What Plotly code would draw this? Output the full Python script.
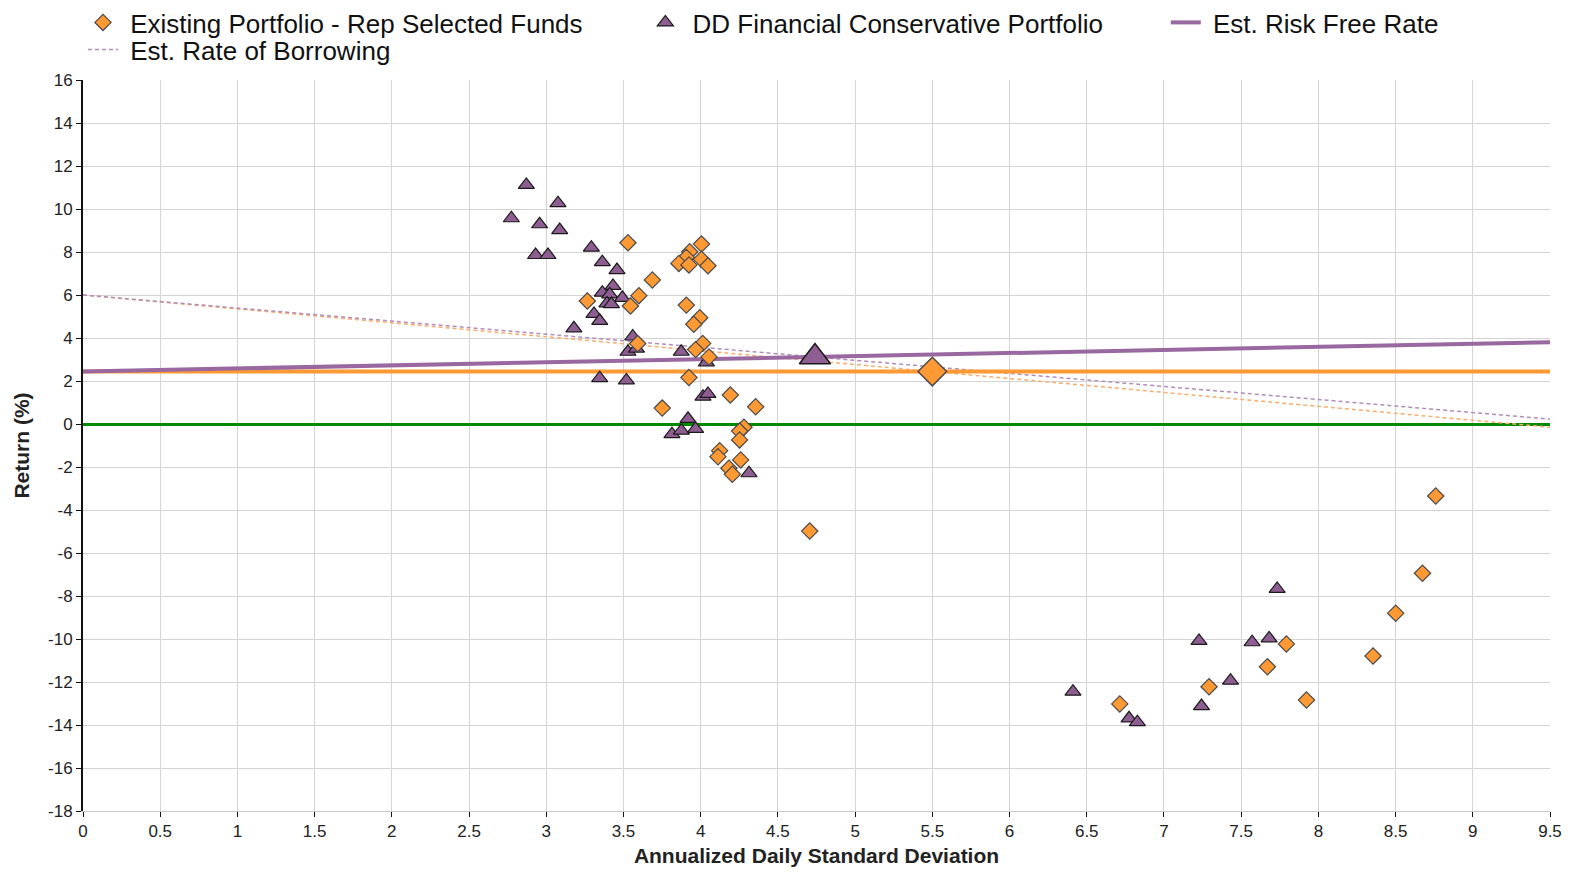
import plotly.graph_objects as go

# ---------------- data ----------------
existing_sd = [3.529, 4.005, 3.929, 3.907, 3.859, 3.924, 4.005, 4.047, 3.687, 3.600,
               3.545, 3.266, 3.907, 3.994, 3.955, 3.592, 4.013, 3.967, 4.054, 3.924,
               4.192, 3.751, 4.356, 4.280, 4.252, 4.252, 4.123, 4.112, 4.259, 4.183,
               4.205, 4.706, 6.714, 7.292, 7.670, 7.793, 7.923, 8.354, 8.501, 8.674,
               8.760]
existing_ret = [8.43, 8.37, 8.01, 7.75, 7.47, 7.40, 7.66, 7.36, 6.70, 5.97,
                5.49, 5.72, 5.53, 4.94, 4.64, 3.74, 3.75, 3.46, 3.12, 2.16,
                1.35, 0.74, 0.80, -0.15, -0.33, -0.74, -1.24, -1.52, -1.67, -2.06,
                -2.34, -4.98, -13.02, -12.22, -11.29, -10.23, -12.84, -10.79, -8.80, -6.94,
                -3.35]

dd_sd = [2.871, 3.076, 2.774, 2.957, 3.087, 2.931, 3.011, 3.292, 3.363, 3.458,
         3.432, 3.363, 3.411, 3.493, 3.393, 3.422, 3.309, 3.346, 3.179, 3.560,
         3.529, 3.584, 3.874, 4.037, 3.346, 3.519, 4.015, 4.047, 3.918, 3.814,
         3.875, 3.967, 4.313, 6.411, 6.774, 6.828, 7.227, 7.243, 7.431, 7.571,
         7.681, 7.733]
dd_ret = [11.12, 10.27, 9.57, 9.29, 9.02, 7.86, 7.86, 8.20, 7.53, 7.16,
          6.42, 6.11, 6.03, 5.87, 5.61, 5.58, 5.12, 4.80, 4.45, 4.07,
          3.36, 3.51, 3.36, 2.87, 2.13, 2.03, 1.27, 1.40, 0.24, -0.47,
          -0.31, -0.23, -2.29, -12.45, -13.69, -13.87, -10.09, -13.12, -11.94, -10.15,
          -9.97, -7.67]

existing_port_sd, existing_port_ret = 5.5, 2.44
dd_port_sd, dd_port_ret = 4.74, 3.12
risk_free_rate = 2.44
borrow_rate = 6.0
sd_max = 9.5

series_names = ["Existing Portfolio - Rep Selected Funds",
                "DD Financial Conservative Portfolio",
                "Est. Risk Free Rate",
                "Est. Rate of Borrowing"]

x_ticks = [i * 0.5 for i in range(20)]
x_ticktext = [f"{v:g}" for v in x_ticks]
y_ticks = list(range(-18, 17, 2))
y_ticktext = [str(v) for v in y_ticks]

# ---------------- styling ----------------
ORANGE = "#FF9933"
PURPLE = "#8E5E92"
PURPLE_LINE = "#9A68A0"
ORANGE_DASH = "#F7AE6E"
PURPLE_DASH = "#B48CB8"
FONT = "Liberation Sans, Arial, sans-serif"
NB = "\u00a0"

# page body has an 8px default margin -> figure is sized to fit the window
FIG_W, FIG_H = 1558, 859
M_L, M_T, M_R, M_B = 75, 72, 16, 56
PLOT_H = FIG_H - M_T - M_B


def line_through(y0, px, py, xmax):
    slope = (py - y0) / px
    return [0, xmax], [y0, y0 + slope * xmax]


fig = go.Figure()

# borrowing lines (dashed)
bx, by = line_through(borrow_rate, existing_port_sd, existing_port_ret, sd_max)
fig.add_trace(go.Scatter(x=bx, y=by, mode="lines", showlegend=False,
                         line=dict(color=ORANGE_DASH, width=1.5, dash="4px,3px"), hoverinfo="skip"))
bx, by = line_through(borrow_rate, dd_port_sd, dd_port_ret, sd_max)
fig.add_trace(go.Scatter(x=bx, y=by, mode="lines", name=NB + series_names[3], legend="legend2",
                         line=dict(color=PURPLE_DASH, width=1.5, dash="4px,3px"), hoverinfo="skip"))

# risk free lines (solid)
rx, ry = line_through(risk_free_rate, existing_port_sd, existing_port_ret, sd_max)
fig.add_trace(go.Scatter(x=rx, y=ry, mode="lines", showlegend=False,
                         line=dict(color=ORANGE, width=4), hoverinfo="skip"))
rx, ry = line_through(risk_free_rate, dd_port_sd, dd_port_ret, sd_max)
fig.add_trace(go.Scatter(x=rx, y=ry, mode="lines", name=NB + series_names[2], legendrank=3,
                         line=dict(color=PURPLE_LINE, width=4), hoverinfo="skip"))

# funds (triangles below diamonds)
fig.add_trace(go.Scatter(x=dd_sd, y=dd_ret, mode="markers",
                         name=NB + series_names[1] + NB * 8, legendrank=2,
                         marker=dict(symbol="triangle-up", size=14, color=PURPLE,
                                     line=dict(color="#1a1a1a", width=1.2))))
fig.add_trace(go.Scatter(x=existing_sd, y=existing_ret, mode="markers",
                         name=NB + series_names[0] + NB * 8, legendrank=1,
                         marker=dict(symbol="diamond", size=12.5, color=ORANGE,
                                     line=dict(color="#4a4a4a", width=1.2))))

# portfolios (big markers)
fig.add_trace(go.Scatter(x=[dd_port_sd], y=[dd_port_ret], mode="markers", showlegend=False,
                         marker=dict(symbol="triangle-up", size=27, color=PURPLE,
                                     line=dict(color="#1a1a1a", width=1.5))))
fig.add_trace(go.Scatter(x=[existing_port_sd], y=[existing_port_ret], mode="markers", showlegend=False,
                         marker=dict(symbol="diamond", size=22, color=ORANGE,
                                     line=dict(color="#4a4a4a", width=1.5))))

legend_font = dict(size=26, family=FONT, color="#111111")

fig.update_layout(
    width=FIG_W, height=FIG_H,
    margin=dict(l=M_L, r=M_R, t=M_T, b=M_B, autoexpand=False),
    paper_bgcolor="white", plot_bgcolor="white",
    font=dict(family=FONT, color="#111111"),
    showlegend=True,
    legend=dict(orientation="h", xref="paper", x=0.0, xanchor="left",
                yref="paper", y=1 + (M_T + 9) / PLOT_H, yanchor="top",
                font=legend_font, bgcolor="rgba(0,0,0,0)", traceorder="normal"),
    legend2=dict(orientation="h", xref="paper", x=0.0, xanchor="left",
                 yref="paper", y=1 + (M_T - 18) / PLOT_H, yanchor="top",
                 font=legend_font, bgcolor="rgba(0,0,0,0)"),
    xaxis=dict(range=[0, sd_max], tickvals=x_ticks, ticktext=x_ticktext,
               showgrid=True, gridcolor="#d3d3d3", gridwidth=1,
               zeroline=False, showline=True, linecolor="#c8c8c8", linewidth=1,
               ticks="outside", ticklen=5, tickcolor="#111111", tickwidth=1,
               tickfont=dict(size=17, family=FONT, color="#222222"),
               title=dict(text="<b>Annualized Daily Standard Deviation</b>",
                          font=dict(size=21, family=FONT, color="#222222"), standoff=17)),
    yaxis=dict(range=[-18, 16], tickvals=y_ticks, ticktext=y_ticktext,
               showgrid=True, gridcolor="#d3d3d3", gridwidth=1,
               zeroline=True, zerolinecolor="#008a00", zerolinewidth=2.5,
               showline=True, linecolor="#111111", linewidth=2,
               ticks="outside", ticklen=5, tickcolor="#111111", tickwidth=1,
               tickfont=dict(size=17, family=FONT, color="#222222"),
               title=dict(text="<b>Return (%)</b>",
                          font=dict(size=21, family=FONT, color="#222222"), standoff=13)),
)

fig.write_html("out.html")
